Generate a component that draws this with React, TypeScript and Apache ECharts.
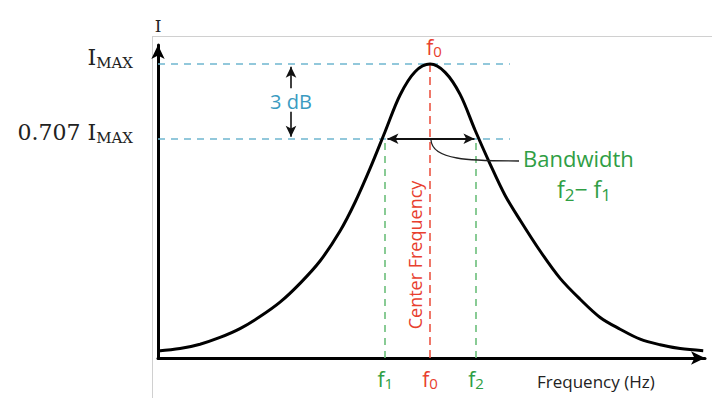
import React, { useEffect, useRef } from 'react';
import * as echarts from 'echarts';

// Resonance curve (frequency in arbitrary units, current in % of I_MAX)
const freq = [0.0, 3.97, 7.58, 11.19, 14.8, 18.41, 22.02, 25.63, 29.24, 32.85, 35.56, 38.27, 40.97, 43.68, 46.39, 49.1,
  51.81, 54.51, 57.22, 59.93, 62.64, 65.34, 68.95, 72.56, 76.17, 79.78, 83.39, 87.0, 90.61, 94.22, 98.38];
const current = [2.4, 3.2, 4.7, 7.0, 10.0, 14.1, 19.0, 25.4, 33.0, 43.2, 53.0, 64.5, 77.0, 89.5, 97.4, 100,
  97.2, 89.7, 77.5, 66.0, 55.3, 46.9, 36.4, 27.1, 20.0, 13.8, 9.8, 6.4, 4.5, 3.2, 2.5];

// Key frequencies (x ticks)
const tickFreqs = [41.0, 49.1, 57.4];
const tickSubs = ['1', '0', '2'];
const tickColors = ['g', 'r', 'g'];

// Current levels (y ticks)
const levelValues = [74.6, 100];
const levelMain = ['0.707 I', 'I'];
const levelSub = ['MAX', 'MAX'];

// 3 dB marker position
const dbX = 24.0;
const blueEnd = 63.5;

const X_MAX = 98.7;
const Y_MAX = 106.5;

const BLUE = '#6fb6cf';
const BLUE_TXT = '#3a9bc1';
const RED = '#ec5544';
const RED_TXT = '#e8402f';
const GREEN = '#6cbf7b';
const GREEN_TXT = '#2f9e44';
const SANS = '"Open Sans", "Noto Sans", sans-serif';
const SERIF = '"DejaVu Serif", "Liberation Serif", serif';

export default function App() {
  const ref = useRef<HTMLDivElement>(null);
  useEffect(() => {
    if (!ref.current) return;
    const chart = echarts.init(ref.current, null, { renderer: 'svg' });

    const dashed = (x1: number, y1: number, x2: number, y2: number, color: string, dash: number[]) => [
      { coord: [x1, y1], symbol: 'none', lineStyle: { color, width: 1.6, type: dash } },
      { coord: [x2, y2], symbol: 'none' },
    ];
    const arrow = (x1: number, y1: number, x2: number, y2: number, startArrow: boolean, width: number) => [
      { coord: [x1, y1], symbol: startArrow ? 'arrow' : 'none', symbolSize: [8, 11], lineStyle: { color: '#111', width, type: 'solid' } },
      { coord: [x2, y2], symbol: 'arrow', symbolSize: [8, 11] },
    ];

    const option: any = {
      animation: false,
      grid: { left: 158, right: 7, top: 45, bottom: 40, containLabel: false },
      xAxis: {
        type: 'value',
        min: 0,
        max: X_MAX,
        splitLine: { show: false },
        axisTick: { show: false },
        axisLine: {
          show: true,
          symbol: ['none', 'arrow'],
          symbolSize: [10, 14],
          lineStyle: { color: '#000', width: 3 },
        },
        axisLabel: {
          customValues: tickFreqs,
          margin: 10,
          formatter: (v: number) => {
            const i = tickFreqs.findIndex((t) => Math.abs(t - v) < 0.01);
            if (i < 0) return '';
            const c = tickColors[i];
            return `{${c}|f}{${c}s|${tickSubs[i]}}`;
          },
          rich: {
            g: { fontFamily: SANS, fontSize: 21, lineHeight: 22, color: GREEN_TXT },
            gs: { fontFamily: SANS, fontSize: 15, lineHeight: 6, verticalAlign: 'bottom', color: GREEN_TXT },
            r: { fontFamily: SANS, fontSize: 21, lineHeight: 22, color: RED_TXT },
            rs: { fontFamily: SANS, fontSize: 15, lineHeight: 6, verticalAlign: 'bottom', color: RED_TXT },
          },
        },
      },
      yAxis: {
        type: 'value',
        min: 0,
        max: Y_MAX,
        name: 'I',
        nameLocation: 'end',
        nameGap: 11,
        nameTextStyle: { fontFamily: SERIF, fontSize: 17, color: '#222' },
        splitLine: { show: false },
        axisTick: { show: false },
        axisLine: {
          show: true,
          symbol: ['none', 'arrow'],
          symbolSize: [10, 14],
          lineStyle: { color: '#000', width: 3 },
        },
        axisLabel: {
          customValues: levelValues,
          margin: 25,
          padding: [0, 0, 13, 0],
          formatter: (v: number) => {
            const i = levelValues.findIndex((t) => Math.abs(t - v) < 0.01);
            if (i < 0) return '';
            return `{m|${levelMain[i]}}{s|${levelSub[i]}}`;
          },
          rich: {
            m: { fontFamily: SERIF, fontSize: 22, lineHeight: 26, color: '#222' },
            s: { fontFamily: SERIF, fontSize: 15, lineHeight: 17, verticalAlign: 'bottom', color: '#222' },
          },
        },
      },
      series: [
        {
          type: 'line',
          data: freq.map((f, i) => [f, current[i]]),
          smooth: 0.33,
          showSymbol: false,
          clip: false,
          lineStyle: { color: '#000', width: 3 },
          z: 5,
          markLine: {
            silent: true,
            animation: false,
            symbol: ['none', 'none'],
            label: { show: false },
            data: [
              dashed(0, levelValues[1], blueEnd, levelValues[1], BLUE, [7, 6]),
              dashed(0, levelValues[0], blueEnd, levelValues[0], BLUE, [7, 6]),
              dashed(tickFreqs[1], 0, tickFreqs[1], 100.7, RED, [8, 5]),
              dashed(tickFreqs[0], 0, tickFreqs[0], levelValues[0], GREEN, [7, 6]),
              dashed(tickFreqs[2], 0, tickFreqs[2], levelValues[0], GREEN, [7, 6]),
              arrow(41.4, levelValues[0], 57.1, levelValues[0], true, 2),
              arrow(dbX, 91.8, dbX, 99.1, false, 1.6),
              arrow(dbX, 83.8, dbX, 75.3, false, 1.6),
            ],
          },
        },
      ],
      graphic: [
        { type: 'line', shape: { x1: 152, y1: 36.5, x2: 712, y2: 36.5 }, style: { stroke: '#d0d0d0', lineWidth: 1 }, silent: true },
        { type: 'line', shape: { x1: 152.5, y1: 36, x2: 152.5, y2: 398 }, style: { stroke: '#d0d0d0', lineWidth: 1 }, silent: true },
        {
          type: 'bezierCurve',
          shape: { x1: 431, y1: 140, x2: 519, y2: 161, cpx1: 432, cpy1: 160, cpx2: 470, cpy2: 161 },
          style: { stroke: '#222', lineWidth: 1.3, fill: null },
          z: 10,
        },
        {
          type: 'text', x: 291, y: 101,
          style: { text: '3 dB', fontFamily: SANS, fontSize: 20, lineHeight: 20, fill: BLUE_TXT, textAlign: 'center', textVerticalAlign: 'middle', backgroundColor: '#fff' },
          z: 10,
        },
        {
          type: 'text', x: 415, y: 255, rotation: Math.PI / 2,
          style: { text: 'Center Frequency', fontFamily: SANS, fontSize: 18, fill: RED_TXT, textAlign: 'center', textVerticalAlign: 'middle' },
          z: 10,
        },
        {
          type: 'text', x: 434, y: 47,
          style: {
            text: '{r|f}{rs|0}', textAlign: 'center', textVerticalAlign: 'middle',
            rich: {
              r: { fontFamily: SANS, fontSize: 21, lineHeight: 22, fill: RED_TXT },
              rs: { fontFamily: SANS, fontSize: 15, lineHeight: 6, verticalAlign: 'bottom', fill: RED_TXT },
            },
          },
          z: 10,
        },
        {
          type: 'text', x: 523, y: 158,
          style: { text: 'Bandwidth', fontFamily: SANS, fontSize: 22, lineHeight: 20, fill: GREEN_TXT, textAlign: 'left', textVerticalAlign: 'middle' },
          z: 10,
        },
        {
          type: 'text', x: 584, y: 189,
          style: {
            text: '{g|f}{gs|2}{g|− f}{gs|1}', textAlign: 'center', textVerticalAlign: 'middle',
            rich: {
              g: { fontFamily: SANS, fontSize: 23, lineHeight: 28, fill: GREEN_TXT },
              gs: { fontFamily: SANS, fontSize: 17, lineHeight: 8, verticalAlign: 'bottom', fill: GREEN_TXT },
            },
          },
          z: 10,
        },
        {
          type: 'text', x: 537, y: 381,
          style: { text: 'Frequency (Hz)', fontFamily: SANS, fontSize: 17, fill: '#222', textAlign: 'left', textVerticalAlign: 'middle' },
          z: 10,
        },
      ],
    };
    chart.setOption(option);
    return () => chart.dispose();
  }, []);
  return <div ref={ref} style={{ width: 712, height: 398, position: 'absolute', left: 0, top: 0 }} />;
}
